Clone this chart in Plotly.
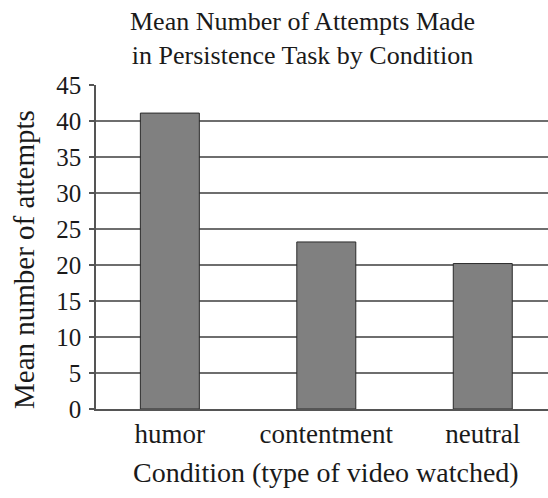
import plotly.graph_objects as go

categories = ["humor", "contentment", "neutral"]
mean_attempts = [41.1, 23.2, 20.2]
y_ticks = [0, 5, 10, 15, 20, 25, 30, 35, 40, 45]

title_text = "Mean Number of Attempts Made<br>in Persistence Task by Condition"
x_title = "Condition (type of video watched)"
y_title = "Mean number of attempts"

FONT = "Liberation Serif, Times New Roman, serif"
W, H = 548, 498
ML, MR, MT, MB = 96, 0, 85, 89

fig = go.Figure()
fig.add_trace(go.Bar(
    x=categories, y=mean_attempts, width=0.377,
    marker=dict(color="#808080", line=dict(color="#2a2a2a", width=1)),
))

def px_to_paper_x(px):
    return (px - ML) / (W - ML - MR)

def px_to_paper_y(py):
    return (H - MB - py) / (H - MT - MB)

fig.update_layout(
    width=W, height=H,
    margin=dict(l=ML, r=MR, t=MT, b=MB),
    paper_bgcolor="white", plot_bgcolor="white",
    showlegend=False,
    font=dict(family=FONT, color="#1a1a1a", size=24),
    xaxis=dict(
        range=[-0.472, 2.417], showgrid=False, showline=True,
        linecolor="#555555", linewidth=1.5, ticks="",
        tickfont=dict(size=27), ticklabelstandoff=0,
    ),
    yaxis=dict(
        range=[0, 45], tickvals=y_ticks, showgrid=True,
        gridcolor="#6e6e6e", gridwidth=1.5,
        showline=True, linecolor="#555555", linewidth=1.5,
        ticks="outside", ticklen=5, tickcolor="#555555", tickwidth=1.5,
        tickfont=dict(size=25), ticklabelstandoff=3, zeroline=False,
    ),
    annotations=[
        dict(text=title_text, xref="paper", yref="paper",
             x=px_to_paper_x(302), y=px_to_paper_y(5),
             xanchor="center", yanchor="top", showarrow=False,
             font=dict(size=26)),
        dict(text=x_title, xref="paper", yref="paper",
             x=px_to_paper_x(326), y=px_to_paper_y(490),
             xanchor="center", yanchor="bottom", showarrow=False,
             font=dict(size=28)),
        dict(text=y_title, xref="paper", yref="paper",
             x=px_to_paper_x(24), y=px_to_paper_y(260),
             xanchor="center", yanchor="middle", textangle=-90,
             showarrow=False, font=dict(size=29)),
    ],
)

fig.write_html("out.html", config={"displayModeBar": False},
               post_script="document.body.style.margin='0';")
